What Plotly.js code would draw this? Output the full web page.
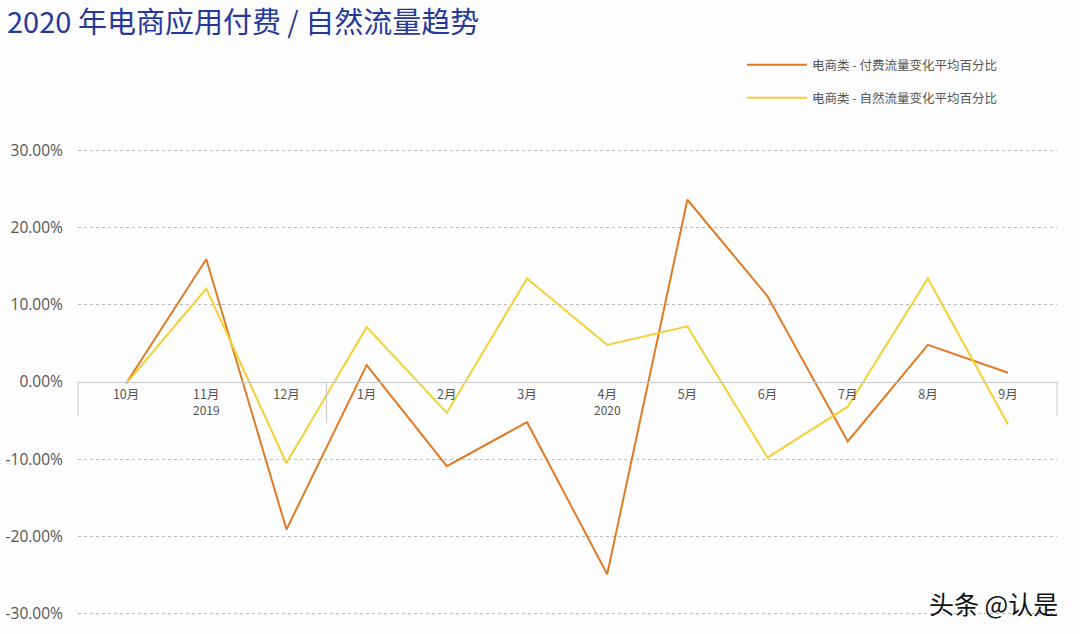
<!DOCTYPE html>
<html>
<head>
<meta charset="utf-8">
<script src="https://cdn.plot.ly/plotly-3.0.1.min.js"></script>
<style>
html,body{margin:0;padding:0;background:#fdfdfe;}
#chart{width:1080px;height:634px;}
</style>
</head>
<body>
<div id="chart"></div>
<script>
// categories (months, Oct 2019 - Sep 2020)
const months = ["10月", "11月", "12月", "1月", "2月", "3月", "4月", "5月", "6月", "7月", "8月", "9月"];
// year group labels and the month each is printed under
const yearLabels = ["2019", "2020"];
const yearLabelMonths = ["11月", "4月"];
// series values (percent)
const paidName = "电商类 - 付费流量变化平均百分比";
const paidValues = [-0.2, 15.9, -19.1, 2.2, -10.9, -5.2, -24.9, 23.6, 11.1, -7.7, 4.8, 1.2];
const naturalName = "电商类 - 自然流量变化平均百分比";
const naturalValues = [-0.2, 12.1, -10.5, 7.1, -4.0, 13.4, 4.8, 7.2, -9.8, -3.2, 13.4, -5.5];
// y ticks
const yTicks = [-30, -20, -10, 0, 10, 20, 30];
const yTickText = yTicks.map(v => v.toFixed(2) + "%");

const orange = "#e07a24";
const yellow = "#f2d034";
const fontFam = "'Noto Sans CJK SC', 'Noto Sans', sans-serif";

const traces = [
  {x: months, y: paidValues, name: paidName, type: "scatter", mode: "lines",
   line: {color: orange, width: 2}, legend: "legend"},
  {x: months, y: naturalValues, name: naturalName, type: "scatter", mode: "lines",
   line: {color: yellow, width: 2}, legend: "legend2"}
];

const plotTop = 148, plotBottom = 616, plotH = plotBottom - plotTop;

const annotations = yearLabels.map((t, i) => ({
  x: yearLabelMonths[i], y: 0, xref: "x", yref: "y", text: t, showarrow: false,
  yshift: -27, font: {family: fontFam, size: 12, color: "#555"}
}));
annotations.push({
  xref: "paper", yref: "paper", x: (1060 - 78) / 979, y: (plotBottom - 603) / plotH,
  xanchor: "right", yanchor: "middle", text: "头条 @认是", showarrow: false,
  font: {family: fontFam, size: 25, color: "#111"}
});

const shapes = [
  {type: "line", xref: "paper", yref: "paper", x0: 0, x1: 0, y0: 0.5, y1: 0.5 - 34 / plotH, line: {color: "#c8c8c8", width: 1}},
  {type: "line", xref: "x", yref: "paper", x0: 2.5, x1: 2.5, y0: 0.5, y1: 0.5 - 41 / plotH, line: {color: "#c8c8c8", width: 1}},
  {type: "line", xref: "paper", yref: "paper", x0: 1, x1: 1, y0: 0.5, y1: 0.5 - 34 / plotH, line: {color: "#c8c8c8", width: 1}}
];

const layout = {
  width: 1080, height: 634,
  paper_bgcolor: "#fdfdfe", plot_bgcolor: "#fdfdfe",
  margin: {l: 78, r: 23, t: plotTop, b: 634 - plotBottom, autoexpand: false},
  title: {
    text: "2020 年电商应用付费 / 自然流量趋势",
    x: 7 / 1080, xanchor: "left", xref: "container",
    y: 1 - 23 / 634, yanchor: "middle", yref: "container",
    font: {family: fontFam, size: 29, color: "#26399a"}
  },
  xaxis: {
    type: "category", range: [-0.6, 11.61],
    anchor: "free", position: 0.5,
    showline: true, linecolor: "#c8c8c8", linewidth: 1,
    showgrid: false, zeroline: false,
    ticks: "outside", ticklen: 1, tickcolor: "rgba(0,0,0,0)",
    tickfont: {family: fontFam, size: 12.5, color: "#555"},
    fixedrange: true
  },
  yaxis: {
    range: [-30.3, 30.3], tickmode: "array", tickvals: yTicks, ticktext: yTickText,
    showgrid: true, gridcolor: "#b8b8b8", griddash: "dot", gridwidth: 1,
    zeroline: false, showline: false,
    ticks: "outside", ticklen: 11, tickcolor: "rgba(0,0,0,0)",
    tickfont: {family: "'Open Sans', 'Noto Sans', sans-serif", size: 15.5, color: "#555"},
    fixedrange: true
  },
  showlegend: true,
  legend: {
    xref: "container", yref: "container", x: 742 / 1080, y: 1 - 50 / 634,
    xanchor: "left", yanchor: "top", bgcolor: "rgba(0,0,0,0)",
    font: {family: fontFam, size: 12.5, color: "#555"}, itemwidth: 60
  },
  legend2: {
    xref: "container", yref: "container", x: 742 / 1080, y: 1 - 83 / 634,
    xanchor: "left", yanchor: "top", bgcolor: "rgba(0,0,0,0)",
    font: {family: fontFam, size: 12.5, color: "#555"}, itemwidth: 60
  },
  annotations: annotations,
  shapes: shapes
};

Plotly.newPlot("chart", traces, layout, {displayModeBar: false, staticPlot: true});
</script>
</body>
</html>
